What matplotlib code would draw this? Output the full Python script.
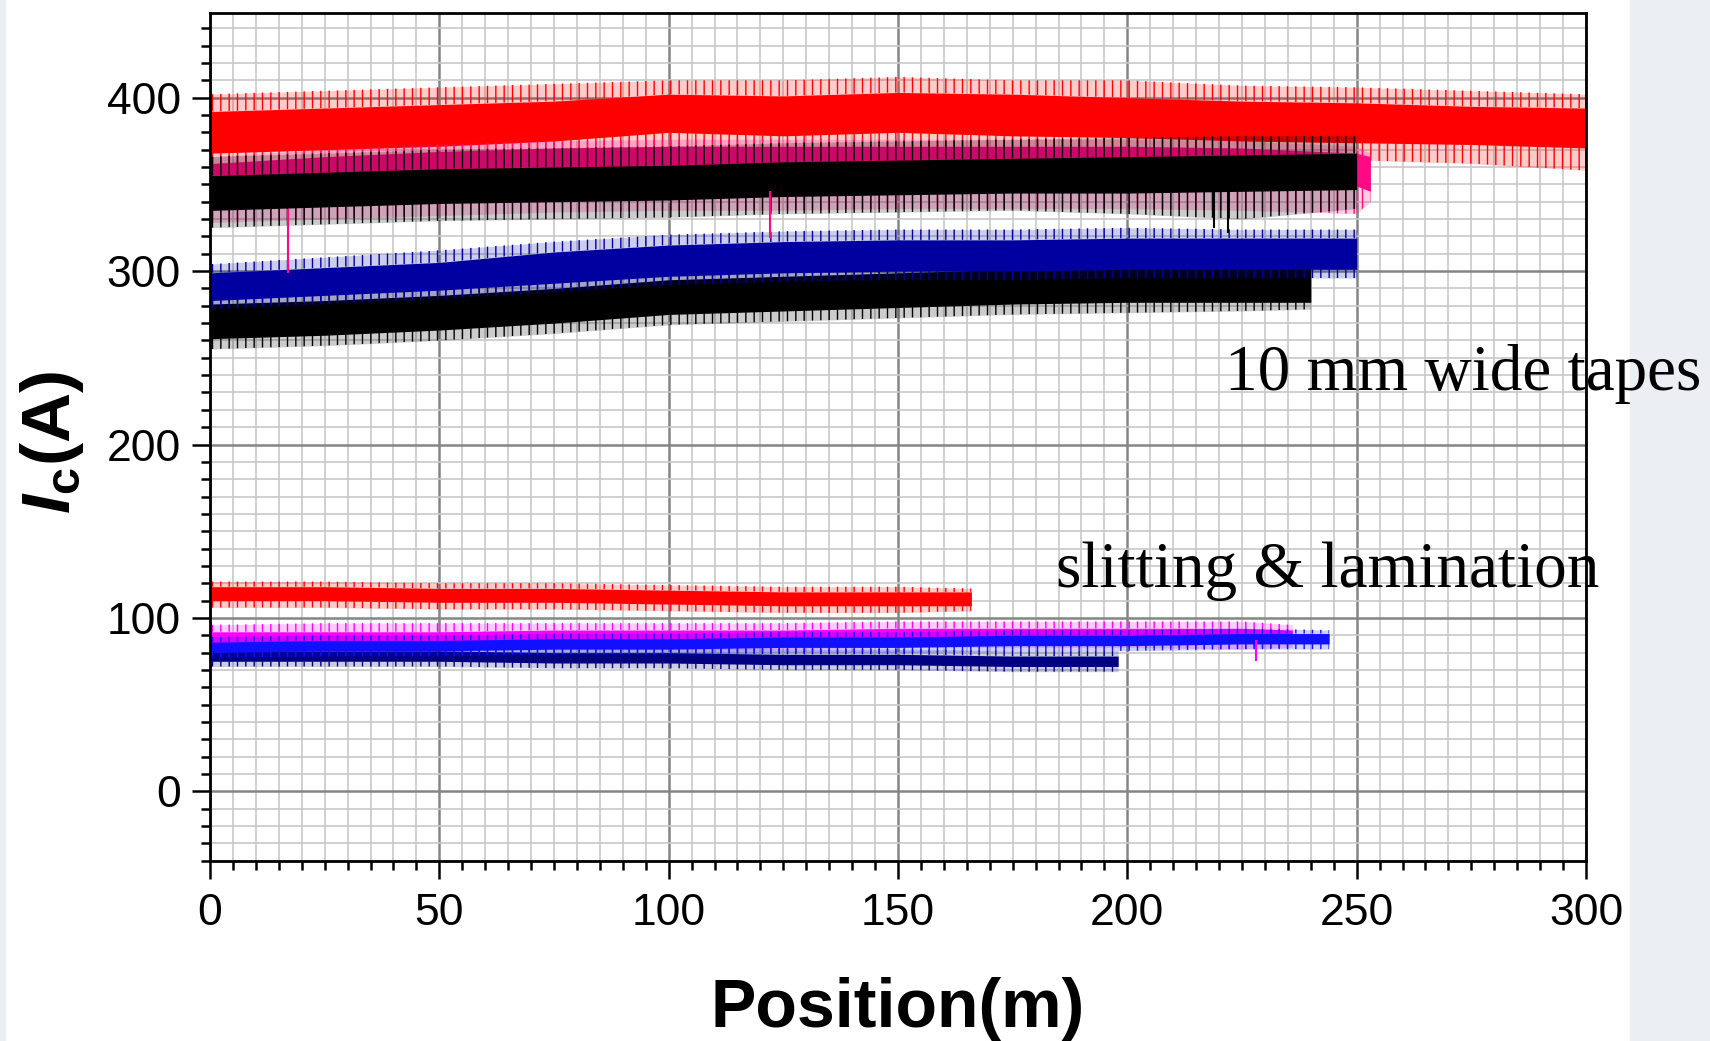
import matplotlib.pyplot as plt
from matplotlib.patches import Rectangle
from matplotlib.ticker import MultipleLocator

plt.rcParams['font.family'] = ['Liberation Sans', 'DejaVu Sans']
plt.rcParams['mathtext.fontset'] = 'custom'
plt.rcParams['mathtext.it'] = 'Liberation Sans:italic:bold'
plt.rcParams['mathtext.rm'] = 'Liberation Sans:bold'
plt.rcParams['hatch.linewidth'] = 1.0

# ---- 10 mm wide tapes (upper group) ----
# position (m), dense band low/high, spike envelope low/high  (A)
red10_x = [0, 25, 50, 75, 100, 125, 150, 175, 200, 225, 250, 275, 300]
red10_lo = [368, 370, 372, 375, 380, 378, 380, 378, 377, 375, 374, 373, 371]
red10_hi = [392, 394, 396, 398, 402, 401, 403, 402, 400, 398, 397, 395, 394]
red10_smin = [360, 362, 364, 366, 370, 370, 372, 370, 369, 366, 364, 362, 358]
red10_smax = [402, 404, 406, 408, 410, 410, 412, 410, 410, 407, 406, 404, 402]

pink10_x = [0, 25, 50, 75, 100, 125, 150, 175, 200, 225, 250, 253]
pink10_lo = [340, 343, 345, 347, 349, 350, 350, 350, 350, 350, 349, 346]
pink10_hi = [362, 366, 369, 371, 372, 372, 372, 372, 372, 371, 368, 366]
pink10_smin = [328, 330, 332, 334, 335, 335, 336, 336, 336, 335, 333, 340]
pink10_smax = [366, 370, 373, 375, 376, 376, 376, 376, 376, 375, 372, 368]

blk10_x = [0, 25, 50, 75, 100, 125, 150, 175, 200, 225, 250]
blk10_lo = [335, 337, 339, 340, 341, 343, 344, 345, 345, 346, 347]
blk10_hi = [355, 357, 359, 360, 361, 363, 364, 365, 366, 367, 368]
blk10_smin = [325, 327, 329, 330, 331, 333, 334, 335, 333, 330, 336]
blk10_smax = [366, 368, 370, 371, 372, 374, 375, 376, 377, 378, 378]

blu10_x = [0, 25, 50, 75, 100, 125, 150, 175, 200, 225, 250]
blu10_lo = [283, 286, 289, 293, 297, 299, 300, 300, 301, 301, 301]
blu10_hi = [299, 302, 305, 311, 315, 317, 318, 318, 319, 319, 319]
blu10_smin = [278, 281, 284, 288, 292, 294, 295, 295, 296, 296, 296]
blu10_smax = [304, 308, 312, 317, 321, 323, 324, 324, 325, 324, 324]

blk10b_x = [0, 25, 50, 75, 100, 125, 150, 175, 200, 225, 240]
blk10b_lo = [261, 263, 266, 270, 275, 277, 279, 281, 282, 282, 282]
blk10b_hi = [281, 283, 286, 290, 295, 297, 299, 301, 302, 302, 302]
blk10b_smin = [255, 257, 260, 264, 269, 271, 273, 275, 276, 277, 278]
blk10b_smax = [289, 291, 294, 298, 303, 305, 307, 309, 309, 309, 308]

# ---- after slitting & lamination (lower group) ----
redS_x = [0, 25, 50, 75, 100, 125, 150, 166]
redS_lo = [110, 110, 109, 109, 108, 107, 107, 107]
redS_hi = [118, 118, 117, 117, 116, 115, 115, 115]
redS_smin = [106, 106, 105, 105, 104, 103, 103, 104]
redS_smax = [121, 121, 120, 120, 119, 118, 118, 117]

magS_x = [0, 25, 50, 75, 100, 125, 150, 175, 200, 225, 236]
magS_lo = [85, 85, 85, 86, 86, 86, 87, 87, 87, 87, 87]
magS_hi = [92, 92, 92, 93, 93, 93, 94, 94, 94, 94, 93]
magS_smin = [81, 81, 81, 82, 82, 82, 83, 83, 83, 82, 83]
magS_smax = [96, 97, 97, 97, 97, 97, 98, 98, 98, 98, 96]

bluS_x = [0, 25, 50, 75, 100, 125, 150, 175, 200, 225, 244]
bluS_lo = [80, 81, 81, 82, 82, 83, 83, 84, 84, 85, 85]
bluS_hi = [86, 87, 87, 88, 88, 89, 89, 90, 90, 91, 91]
bluS_smin = [77, 78, 78, 79, 79, 80, 80, 81, 81, 82, 82]
bluS_smax = [89, 90, 90, 91, 91, 92, 92, 93, 93, 94, 93]

navS_x = [0, 25, 50, 75, 100, 125, 150, 175, 198]
navS_lo = [75, 75, 75, 74, 74, 73, 73, 72, 72]
navS_hi = [81, 81, 81, 80, 80, 79, 79, 78, 78]
navS_smin = [72, 72, 72, 71, 71, 70, 70, 69, 69]
navS_smax = [84, 84, 84, 83, 83, 82, 82, 81, 81]

# single deep drops: (position, band edge, lowest value)
pink10_drops = [(17, 336, 299), (122, 346, 319)]
blk10_drops = [(222, 346, 322), (219, 346, 325)]
magS_drops = [(228, 87, 75)]

traces = [
    (red10_x, red10_lo, red10_hi, red10_smin, red10_smax, '#ff0000'),
    (pink10_x, pink10_lo, pink10_hi, pink10_smin, pink10_smax, '#ff0a84'),
    (blk10_x, blk10_lo, blk10_hi, blk10_smin, blk10_smax, '#000000'),
    (blk10b_x, blk10b_lo, blk10b_hi, blk10b_smin, blk10b_smax, '#000000'),
    (blu10_x, blu10_lo, blu10_hi, blu10_smin, blu10_smax, '#0000a0'),
    (redS_x, redS_lo, redS_hi, redS_smin, redS_smax, '#ff0000'),
    (navS_x, navS_lo, navS_hi, navS_smin, navS_smax, '#000080'),
    (magS_x, magS_lo, magS_hi, magS_smin, magS_smax, '#ff00ff'),
    (bluS_x, bluS_lo, bluS_hi, bluS_smin, bluS_smax, '#1010ff'),
]

fig = plt.figure(figsize=(17.1, 10.41), dpi=100)
fig.add_artist(Rectangle((1630 / 1710, 0), 80 / 1710, 1, transform=fig.transFigure,
                         color='#ebeef2', zorder=0))
fig.add_artist(Rectangle((0, 0), 5 / 1710, 1, transform=fig.transFigure,
                         color='#ebeef2', zorder=0))
ax = fig.add_axes([210 / 1710, 1 - 860.7 / 1041, 1376 / 1710, 848 / 1041])

for x, lo, hi, smin, smax, c in traces:
    # faint fringe with a comb of spikes above and below the dense band
    ax.fill_between(x, smin, smax, color=c, alpha=0.2, lw=0)
    ax.fill_between(x, smin, lo, facecolor='none', edgecolor=c, hatch='||', lw=0)
    ax.fill_between(x, hi, smax, facecolor='none', edgecolor=c, hatch='||', lw=0)
    ax.fill_between(x, lo, hi, color=c, lw=0)

for drops, c in [(pink10_drops, '#ff0a84'), (blk10_drops, '#000000'), (magS_drops, '#ff00ff')]:
    for px, top, bot in drops:
        ax.vlines(px, bot, top, color=c, lw=1.5)

ax.set_xlim(0, 300)
ax.set_ylim(-40, 449)
ax.xaxis.set_major_locator(MultipleLocator(50))
ax.xaxis.set_minor_locator(MultipleLocator(5))
ax.yaxis.set_major_locator(MultipleLocator(100))
ax.yaxis.set_minor_locator(MultipleLocator(10))

ax.set_axisbelow(True)
ax.grid(which='minor', color='#c8c8c8', lw=1.2)
ax.grid(which='major', color='#858585', lw=1.8)

for s in ax.spines.values():
    s.set_linewidth(2.0)
ax.tick_params(which='major', length=13, width=1.8, labelsize=32, pad=8)
ax.tick_params(which='minor', length=6.5, width=1.8)
ax.tick_params(axis='x', which='major', pad=10)

fig.text(898 / 1710, 1 - 1009 / 1041, 'Position(m)', fontsize=49, fontweight='bold',
         ha='center', va='center')
fig.text(52 / 1710, 1 - 442 / 1041, r'$\mathit{I}_\mathrm{c}$(A)', fontsize=50,
         fontweight='bold', rotation=90, ha='center', va='center')

ax.text(221.2, 231.6, '10 mm wide tapes', family='Liberation Serif', fontsize=47,
        ha='left', va='baseline', clip_on=False)
ax.text(184.4, 117.7, 'slitting & lamination', family='Liberation Serif', fontsize=47,
        ha='left', va='baseline', clip_on=False)

fig.savefig('out.png', dpi=100)
